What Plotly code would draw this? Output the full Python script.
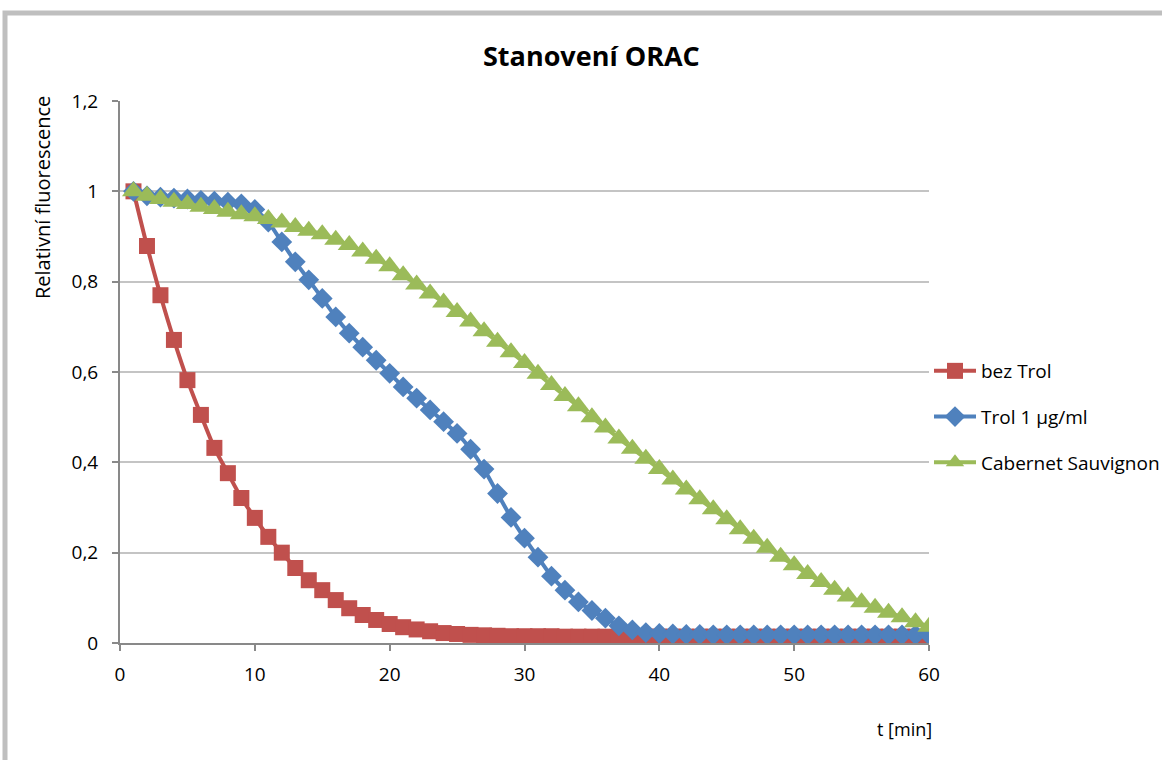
import plotly.graph_objects as go

# time axis, minutes
t_min = list(range(1, 61))

# relative fluorescence, blank (no Trolox)
bez_trol = [1.000, 0.879, 0.770, 0.671, 0.582, 0.505, 0.432, 0.376, 0.321, 0.277,
            0.235, 0.200, 0.166, 0.139, 0.117, 0.095, 0.077, 0.062, 0.051, 0.042,
            0.035, 0.030, 0.026, 0.022, 0.020, 0.018, 0.017, 0.016, 0.015, 0.015,
            0.015, 0.015, 0.014, 0.014, 0.014, 0.014, 0.014, 0.014, 0.014, 0.014,
            0.014, 0.014, 0.014, 0.014, 0.014, 0.014, 0.014, 0.014, 0.014, 0.014,
            0.014, 0.014, 0.014, 0.014, 0.014, 0.014, 0.014, 0.014, 0.014, 0.014]

# relative fluorescence, Trolox 1 ug/ml
trol_1 = [1.000, 0.990, 0.987, 0.985, 0.983, 0.980, 0.978, 0.976, 0.972, 0.960,
          0.932, 0.888, 0.844, 0.804, 0.763, 0.722, 0.686, 0.655, 0.626, 0.597,
          0.567, 0.542, 0.516, 0.490, 0.464, 0.429, 0.385, 0.331, 0.278, 0.232,
          0.190, 0.148, 0.117, 0.091, 0.072, 0.055, 0.038, 0.029, 0.023, 0.021,
          0.020, 0.019, 0.019, 0.018, 0.018, 0.018, 0.018, 0.018, 0.018, 0.018,
          0.018, 0.018, 0.018, 0.018, 0.018, 0.018, 0.018, 0.018, 0.018, 0.018]

# relative fluorescence, Cabernet Sauvignon
cabernet = [1.000, 0.990, 0.983, 0.977, 0.972, 0.966, 0.961, 0.955, 0.949, 0.945,
            0.939, 0.931, 0.921, 0.913, 0.905, 0.893, 0.881, 0.867, 0.851, 0.834,
            0.814, 0.794, 0.774, 0.754, 0.733, 0.712, 0.690, 0.667, 0.644, 0.620,
            0.596, 0.571, 0.547, 0.524, 0.500, 0.477, 0.453, 0.430, 0.408, 0.385,
            0.362, 0.340, 0.318, 0.296, 0.274, 0.252, 0.231, 0.211, 0.191, 0.172,
            0.153, 0.135, 0.118, 0.103, 0.090, 0.078, 0.067, 0.057, 0.046, 0.036]

y_ticks = [0, 0.2, 0.4, 0.6, 0.8, 1.0, 1.2]
x_ticks = [0, 10, 20, 30, 40, 50, 60]

FONT = "Open Sans"
W, H = 1162, 760
L, R, T, B = 120, 233, 101, 117
PW, PH = W - L - R, H - T - B


def px_x(p):
    return (p - L) / PW


def px_y(p):
    return (H - B - p) / PH


series = [
    ("bez Trol", bez_trol, "#C0504D", "square", 16, "g1"),
    ("Trol 1 µg/ml", trol_1, "#4F81BD", "diamond", 16, "g2"),
    ("Cabernet Sauvignon", cabernet, "#9BBB59", "triangle-up", 20, "g3"),
]

fig = go.Figure()
for name, vals, col, sym, size, grp in series:
    fig.add_trace(go.Scatter(
        x=t_min, y=vals, name=name, mode="lines+markers",
        line=dict(color=col, width=4, shape="spline", smoothing=0.6),
        marker=dict(symbol=sym, size=size, color=col, line=dict(width=0)),
        legendgroup=grp,
    ))

fig.update_layout(
    width=W, height=H,
    margin=dict(l=L, r=R, t=T, b=B, autoexpand=False),
    paper_bgcolor="white", plot_bgcolor="white",
    separators=", ",
    font=dict(family=FONT, size=17, color="black"),
    showlegend=True,
    legend=dict(
        x=px_x(929), y=px_y(417), xanchor="left", yanchor="middle",
        font=dict(family=FONT, size=19, color="black"),
        traceorder="grouped", tracegroupgap=18, itemwidth=42,
        bgcolor="rgba(0,0,0,0)",
    ),
    xaxis=dict(
        range=[0, 60], tickvals=x_ticks, showgrid=False, zeroline=False,
        showline=True, linecolor="#898989", linewidth=2,
        ticks="outside", ticklen=6, tickcolor="#898989", tickwidth=2,
        tickfont=dict(family=FONT, size=19), ticklabelstandoff=7,
    ),
    yaxis=dict(
        range=[0, 1.2], tickvals=y_ticks, showgrid=True,
        gridcolor="#c4c4c4", gridwidth=1.5, zeroline=False,
        showline=True, linecolor="#898989", linewidth=2,
        ticks="outside", ticklen=6, tickcolor="#898989", tickwidth=2,
        tickfont=dict(family=FONT, size=19), ticklabelstandoff=10,
    ),
    shapes=[
        dict(type="rect", xref="paper", yref="paper",
             x0=px_x(5), x1=px_x(1300), y0=px_y(900), y1=px_y(13),
             line=dict(color="#bfbfbf", width=5), fillcolor="rgba(0,0,0,0)",
             layer="below"),
    ],
    annotations=[
        dict(text="<b>Stanovení ORAC</b>", xref="paper", yref="paper",
             x=px_x(591), y=px_y(55), xanchor="center", yanchor="middle",
             showarrow=False, font=dict(family=FONT, size=27)),
        dict(text="Relativní fluorescence", xref="paper", yref="paper",
             x=px_x(42), y=px_y(198), xanchor="center", yanchor="middle",
             textangle=-90, showarrow=False, font=dict(family=FONT, size=20)),
        dict(text="t [min]", xref="paper", yref="paper",
             x=px_x(904), y=px_y(729), xanchor="center", yanchor="middle",
             showarrow=False, font=dict(family=FONT, size=18)),
    ],
)

fig.write_html("out.html")
